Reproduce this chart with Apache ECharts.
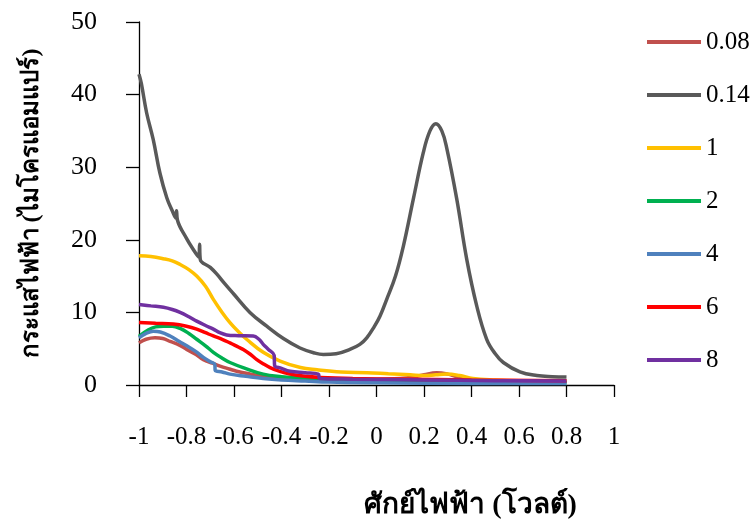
<!DOCTYPE html>
<html>
<head>
<meta charset="utf-8">
<script src="https://cdn.jsdelivr.net/npm/echarts@6/dist/echarts.min.js"></script>
<style>html,body{margin:0;padding:0;background:#fff}#c{width:755px;height:527px}</style>
</head>
<body>
<div id="c"></div>
<script>
const seriesNames = ['0.08', '0.14', '1', '2', '4', '6', '8'];
const xTicks = [-1, -0.8, -0.6, -0.4, -0.2, 0, 0.2, 0.4, 0.6, 0.8, 1];
const yTicks = [0, 10, 20, 30, 40, 50];

const s008 = [[-1,5.8],[-0.97,6.3],[-0.933,6.5],[-0.9,6.4],[-0.869,6.0],[-0.83,5.5],[-0.799,4.9],[-0.76,4.2],[-0.729,3.5],[-0.69,3.0],[-0.659,2.6],[-0.62,2.2],[-0.589,1.9],[-0.53,1.5],[-0.477,1.2],[-0.4,1.0],[-0.3,0.9],[-0.2,0.85],[-0.1,0.8],[0,0.8],[0.1,0.9],[0.155,1.1],[0.2,1.4],[0.253,1.7],[0.3,1.5],[0.34,1.1],[0.38,0.8],[0.45,0.6],[0.6,0.5],[0.8,0.45]];
const s014 = [[-1,42.8],[-0.99,41.5],[-0.968,37.5],[-0.94,33.8],[-0.912,29.2],[-0.883,25.8],[-0.86,24.0],[-0.845,23.0],[-0.842,24.0],[-0.838,22.7],[-0.80,20.2],[-0.77,18.6],[-0.748,17.6],[-0.745,19.4],[-0.742,17.3],[-0.70,16.2],[-0.673,15.3],[-0.64,14.0],[-0.603,12.6],[-0.533,10.0],[-0.462,8.1],[-0.392,6.4],[-0.322,5.1],[-0.26,4.4],[-0.224,4.2],[-0.17,4.3],[-0.112,4.9],[-0.07,5.6],[-0.041,6.5],[-0.01,8.0],[0.015,9.5],[0.043,11.8],[0.08,15.0],[0.113,19.1],[0.155,25.6],[0.197,32.0],[0.225,35.0],[0.25,36.0],[0.275,35.0],[0.296,32.6],[0.338,25.6],[0.38,17.3],[0.422,10.9],[0.464,6.3],[0.5,4.3],[0.534,3.1],[0.604,1.8],[0.675,1.3],[0.74,1.15],[0.8,1.1]];
const s1 = [[-1,17.8],[-0.95,17.7],[-0.897,17.4],[-0.86,17.1],[-0.827,16.6],[-0.79,15.9],[-0.757,15.0],[-0.72,13.6],[-0.687,11.8],[-0.65,10.0],[-0.617,8.6],[-0.58,7.3],[-0.547,6.3],[-0.477,4.5],[-0.406,3.3],[-0.32,2.4],[-0.25,2.1],[-0.15,1.8],[-0.04,1.7],[0.05,1.55],[0.143,1.4],[0.2,1.3],[0.25,1.4],[0.296,1.5],[0.35,1.3],[0.406,0.9],[0.5,0.7],[0.6,0.6],[0.8,0.55]];
const s2 = [[-1,6.7],[-0.96,7.6],[-0.93,8.0],[-0.897,8.1],[-0.86,8.1],[-0.827,7.8],[-0.79,7.1],[-0.757,6.3],[-0.72,5.4],[-0.687,4.5],[-0.65,3.7],[-0.617,3.1],[-0.553,2.3],[-0.477,1.5],[-0.4,1.15],[-0.336,1.0],[-0.2,0.8],[0,0.6],[0.3,0.45],[0.8,0.3]];
const s4 = [[-1,6.5],[-0.97,7.1],[-0.94,7.4],[-0.91,7.3],[-0.869,6.75],[-0.83,6.0],[-0.799,5.4],[-0.76,4.6],[-0.729,3.8],[-0.70,3.2],[-0.681,2.85],[-0.679,2.0],[-0.65,1.8],[-0.617,1.5],[-0.55,1.2],[-0.477,0.9],[-0.4,0.7],[-0.3,0.55],[-0.2,0.4],[0,0.3],[0.4,0.2],[0.8,0.2]];
const s6 = [[-1,8.6],[-0.93,8.5],[-0.855,8.4],[-0.8,8.1],[-0.757,7.7],[-0.72,7.2],[-0.687,6.75],[-0.65,6.3],[-0.617,5.8],[-0.58,5.2],[-0.561,4.9],[-0.53,4.2],[-0.504,3.5],[-0.476,2.9],[-0.448,2.4],[-0.41,1.9],[-0.364,1.5],[-0.3,1.2],[-0.238,1.05],[-0.1,0.9],[0.1,0.8],[0.4,0.7],[0.8,0.6]];
const s8 = [[-1,11.1],[-0.95,10.9],[-0.897,10.7],[-0.86,10.4],[-0.827,10.0],[-0.79,9.4],[-0.757,8.8],[-0.72,8.2],[-0.687,7.7],[-0.66,7.2],[-0.631,6.9],[-0.58,6.8],[-0.519,6.75],[-0.495,6.3],[-0.477,5.6],[-0.455,4.9],[-0.431,4.1],[-0.429,2.7],[-0.4,2.3],[-0.364,1.9],[-0.3,1.7],[-0.245,1.5],[-0.239,0.9],[-0.1,0.8],[0.2,0.7],[0.5,0.6],[0.8,0.55]];

const seriesData = [s008, s014, s1, s2, s4, s6, s8];
const colors = ['#C0504D', '#595959', '#FFC000', '#00B050', '#4F81BD', '#FF0000', '#7030A0'];

const chart = echarts.init(document.getElementById('c'), null, {renderer: 'canvas'});
const serif = '"Liberation Serif", "Times New Roman", serif';
const thai = '"Liberation Serif", "Noto Sans", "DejaVu Sans", sans-serif';

chart.setOption({
  animation: false,
  backgroundColor: '#ffffff',
  color: colors,
  grid: {left: 139, right: 141, top: 22, bottom: 142},
  legend: {
    orient: 'vertical',
    left: 647,
    top: 29,
    padding: 0,
    icon: 'rect',
    itemWidth: 54,
    itemHeight: 4,
    itemGap: 27,
    textStyle: {fontFamily: serif, fontSize: 25, color: '#000', lineHeight: 26},
    data: seriesNames
  },
  xAxis: {
    type: 'value',
    min: -1, max: 1, interval: 0.2,
    axisLine: {show: true, onZero: false, lineStyle: {color: '#000', width: 1.3}},
    axisTick: {show: true, length: 12, lineStyle: {color: '#000', width: 1.3}},
    splitLine: {show: false},
    axisLabel: {
      margin: 40, color: '#000', fontFamily: serif, fontSize: 25,
      formatter: function (v) { const r = Math.round(v * 10) / 10; return xTicks.includes(r) ? String(r) : ''; }
    },
    name: 'ศักย์ไฟฟ้า (โวลต์)',
    nameLocation: 'middle',
    nameGap: 107,
    nameTextStyle: {fontFamily: thai, fontSize: 28, fontWeight: 'bold', color: '#000', padding: [0,0,0,188]}
  },
  yAxis: {
    type: 'value',
    min: 0, max: 50, interval: 10,
    axisLine: {show: true, onZero: false, lineStyle: {color: '#000', width: 1.3}},
    axisTick: {show: true, length: 13, lineStyle: {color: '#000', width: 1.3}},
    splitLine: {show: false},
    axisLabel: {
      margin: 42, color: '#000', fontFamily: serif, fontSize: 26,
      formatter: function (v) { return yTicks.includes(v) ? String(v) : ''; }
    },
    name: 'กระแสไฟฟ้า (ไมโครแอมแปร์)',
    nameLocation: 'middle',
    nameGap: 95,
    nameRotate: 90,
    nameTextStyle: {fontFamily: thai, fontSize: 24, fontWeight: 'bold', color: '#000'}
  },
  series: seriesData.map((d, i) => ({
    name: seriesNames[i],
    type: 'line',
    data: d,
    symbol: 'none',
    smooth: 0.4,
    lineStyle: {width: 3.5, color: colors[i]},
    itemStyle: {color: colors[i]}
  }))
});
</script>
</body>
</html>
